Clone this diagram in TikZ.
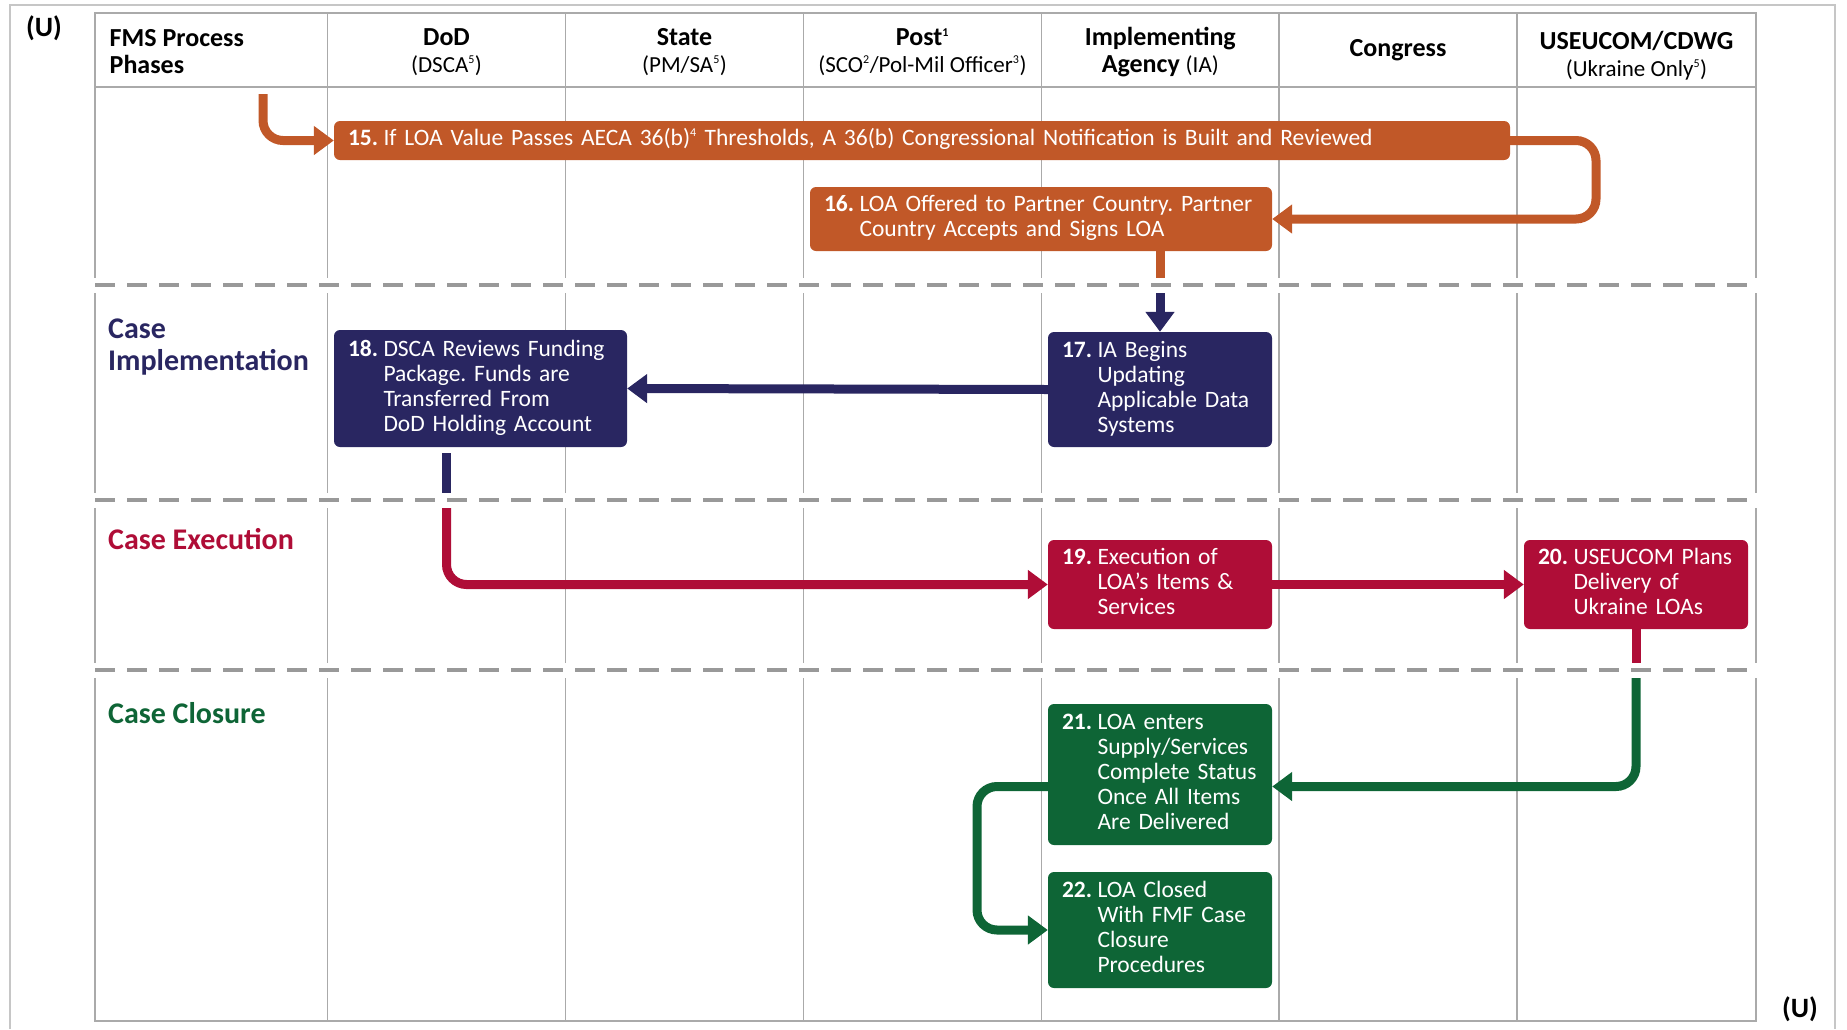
\documentclass[tikz,border=0pt]{standalone}
\usepackage{fontspec}
\setmainfont{Carlito}
\usetikzlibrary{arrows.meta}
\definecolor{loaorange}{RGB}{193,88,40}
\definecolor{loanavy}{RGB}{41,38,97}
\definecolor{loared}{RGB}{175,13,55}
\definecolor{loagreen}{RGB}{14,101,54}
\definecolor{gridgray}{RGB}{170,170,170}
\definecolor{dashgray}{RGB}{153,153,153}
\newcommand{\stepitem}[2]{\begin{tabular}{@{}l@{\hspace{0.23em}}l@{}}\textbf{#1}&\begin{tabular}[t]{@{}l@{}}#2\end{tabular}\end{tabular}}
\newcommand{\subhead}[1]{{\fontsize{23}{27}\selectfont\mdseries #1}}
\newcommand{\supnum}[1]{\textsuperscript{\fontsize{12}{12}\selectfont #1}}
\frenchspacing

\begin{document}
\begin{tikzpicture}[x=1pt,y=-1pt,
  stepbox/.style={rectangle,rounded corners=6pt,text=white,inner xsep=14pt,inner ysep=0pt,align=left,font=\fontsize{23.5}{25}\selectfont},
  flow/.style={line width=9pt,rounded corners=20pt},
  arrowed/.style={-{Triangle[length=20pt,width=28pt]}},
  colhead/.style={align=center,font=\fontsize{26}{27}\selectfont\bfseries},
  phaselabel/.style={anchor=west,align=left,inner xsep=0pt,font=\fontsize{30}{32}\selectfont\bfseries},
  marking/.style={font=\fontsize{28}{30}\selectfont\bfseries}]
  \useasboundingbox (0,0) rectangle (1847,1029);
  \draw[gray!45,line width=1.5pt] (10,1029) -- (10,5) -- (1835,5) -- (1835,1029);
  \draw[gridgray,line width=1.5pt] (95,13) rectangle (1756,1021);
  \foreach \x in {327.5,565.5,803.5,1041.3,1279,1517}
    \draw[gridgray,line width=1.5pt] (\x,13) -- (\x,1021);
  \draw[gridgray,line width=2pt] (95,87) -- (1756,87);

  \node[marking] (u1) at (44,28) {(U)};
  \node[marking] (u2) at (1800,1009) {(U)};

  \node[colhead,anchor=west,align=left,inner xsep=0pt] (h0) at (109.5,52) {FMS Process\\Phases};
  \node[colhead] (h1) at (446.5,52) {DoD\\\subhead{(DSCA\supnum{5})}};
  \node[colhead] (h2) at (684.5,52) {State\\\subhead{(PM/SA\supnum{5})}};
  \node[colhead] (h3) at (922.4,52) {Post\supnum{1}\\\subhead{(SCO\supnum{2}/Pol-Mil Officer\supnum{3})}};
  \node[colhead] (h4) at (1160.3,52) {Implementing\\Agency \subhead{(IA)}};
  \node[colhead] (h5) at (1398,50.5) {Congress};
  \node[colhead] (h6) at (1636.5,55.5) {USEUCOM/CDWG\\\subhead{(Ukraine Only\supnum{5})}};

  \node[phaselabel,text=loanavy] (p1) at (108,347) {Case\\Implementation};
  \node[phaselabel,text=loared] (p2) at (108,539.5) {Case Execution};
  \node[phaselabel,text=loagreen] (p3) at (108,712.7) {Case Closure};

  \node[stepbox,fill=loaorange,text width=1148pt,minimum height=39pt] (n15) at (922,140.5)
    {\stepitem{15.}{If LOA Value Passes AECA 36(b)\supnum{4} Thresholds, A 36(b) Congressional Notification is Built and Reviewed}};
  \node[stepbox,fill=loaorange,text width=434pt,minimum height=64pt] (n16) at (1041,219)
    {\stepitem{16.}{LOA Offered to Partner Country. Partner\\Country Accepts and Signs LOA}};
  \node[stepbox,fill=loanavy,text width=196pt,minimum height=115pt] (n17) at (1160,389.5)
    {\stepitem{17.}{IA Begins\\Updating\\Applicable Data\\Systems}};
  \node[stepbox,fill=loanavy,text width=265pt,minimum height=117pt] (n18) at (480.5,388.5)
    {\stepitem{18.}{DSCA Reviews Funding\\Package. Funds are\\Transferred From\\DoD Holding Account}};
  \node[stepbox,fill=loared,text width=196pt,minimum height=89pt] (n19) at (1160,584.5)
    {\stepitem{19.}{Execution of\\LOA’s Items \&\\Services}};
  \node[stepbox,fill=loared,text width=196pt,minimum height=89pt] (n20) at (1636,584.5)
    {\stepitem{20.}{USEUCOM Plans\\Delivery of\\Ukraine LOAs}};
  \node[stepbox,fill=loagreen,text width=196pt,minimum height=141pt] (n21) at (1160,774.5)
    {\stepitem{21.}{LOA enters\\Supply/Services\\Complete Status\\Once All Items\\Are Delivered}};
  \node[stepbox,fill=loagreen,text width=196pt,minimum height=116pt] (n22) at (1160,930)
    {\stepitem{22.}{LOA Closed\\With FMF Case\\Closure\\Procedures}};

  \coordinate (in15) at (263,94);
  \coordinate (r15) at (1596,219);
  \coordinate (d1) at (1160,285);
  \coordinate (d2) at (446.5,500);
  \coordinate (d3) at (1636,670);
  \coordinate (k18) at ([yshift=-6pt]n18.south);
  \coordinate (l21) at (977,930);
  \draw[flow,loaorange,arrowed] (in15) |- (n15.west);
  \draw[flow,loaorange,arrowed] (n15.east) -| (r15) -- (n16.east);
  \draw[flow,loaorange] (n17.north |- n16.south) -- (d1);
  \draw[flow,loanavy,arrowed] (d1) -- (n17.north);
  \draw[flow,loanavy,arrowed] (n17.west) -- (n18.east);
  \draw[flow,loanavy] (k18 -| d2) -- (d2);
  \draw[flow,loared,arrowed] (d2) |- (n19.west);
  \draw[flow,loared,arrowed] (n19.east) -- (n20.west);
  \draw[flow,loared] (n20.south) -- (d3);
  \draw[flow,loagreen,arrowed] (d3) |- ([yshift=-12pt]n21.east);
  \draw[flow,loagreen,arrowed] ([yshift=-12pt]n21.west) -| (l21) -- (n22.west);

  \foreach \y in {285,500,670} {
    \draw[white,line width=15pt] (94,\y) -- (1757,\y);
    \draw[dashgray,line width=4pt,dash pattern=on 20pt off 12pt] (95,\y) -- (1756,\y);
  }
\end{tikzpicture}
\end{document}
